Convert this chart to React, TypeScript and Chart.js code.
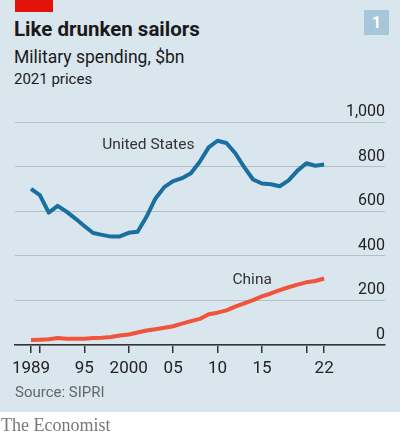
import React, { useEffect, useRef } from "react";
import { Chart, registerables } from "chart.js";

Chart.register(...registerables);

const years: number[] = [
  1989, 1990, 1991, 1992, 1993, 1994, 1995, 1996, 1997, 1998, 1999, 2000, 2001,
  2002, 2003, 2004, 2005, 2006, 2007, 2008, 2009, 2010, 2011, 2012, 2013, 2014,
  2015, 2016, 2017, 2018, 2019, 2020, 2021, 2022,
];

const usSpending: number[] = [
  700, 672, 594, 624, 598, 567, 534, 502, 494, 486, 487, 503, 508, 575, 656,
  708, 735, 748, 770, 822, 886, 916, 906, 860, 798, 742, 724, 721, 712, 738,
  782, 815, 804, 809,
];

const chinaSpending: number[] = [
  22, 24, 26, 31, 28, 28, 28, 31, 33, 36, 43, 47, 56, 65, 71, 77, 84, 96, 107,
  117, 138, 145, 155, 172, 187, 201, 218, 231, 246, 259, 271, 281, 287, 298,
];

const xTickValues: number[] = [1989, 1990, 1995, 2000, 2005, 2010, 2015, 2020, 2022];
const xTickLabels: string[] = ["1989", "", "95", "2000", "05", "10", "15", "", "22"];
const yTickValues: number[] = [0, 200, 400, 600, 800, 1000];
const yTickLabels: string[] = ["0", "200", "400", "600", "800", "1,000"];

const seriesNames: string[] = ["United States", "China"];
const seriesNoteYears: number[] = [2002.2, 2013.9];
const seriesNoteValues: number[] = [898, 293];

const BG = "#d9e6ee";
const US_COLOR = "#1a6fa0";
const CHINA_COLOR = "#f0543a";
const FONT = "Roboto, 'Noto Sans', sans-serif";

const notesPlugin = {
  id: "seriesNotes",
  afterDatasetsDraw(chart: any) {
    const { ctx, scales } = chart;
    ctx.save();
    ctx.font = `15.5px ${FONT}`;
    ctx.fillStyle = "#333333";
    ctx.textAlign = "center";
    ctx.textBaseline = "middle";
    seriesNames.forEach((name, i) => {
      const x = scales.x.getPixelForValue(seriesNoteYears[i]);
      const y = scales.y.getPixelForValue(seriesNoteValues[i]);
      ctx.fillText(name, x, y);
    });
    ctx.restore();
  },
};

export default function App() {
  const canvasRef = useRef<HTMLCanvasElement | null>(null);

  useEffect(() => {
    document.body.style.margin = "0";
    const canvas = canvasRef.current;
    if (!canvas) return;
    const chart = new Chart(canvas, {
      type: "line",
      data: {
        datasets: [
          {
            label: seriesNames[0],
            data: years.map((yr, i) => ({ x: yr, y: usSpending[i] })),
            borderColor: US_COLOR,
            borderWidth: 4,
            pointRadius: 0,
            tension: 0,
            borderJoinStyle: "round",
            borderCapStyle: "butt",
          },
          {
            label: seriesNames[1],
            data: years.map((yr, i) => ({ x: yr, y: chinaSpending[i] })),
            borderColor: CHINA_COLOR,
            borderWidth: 4,
            pointRadius: 0,
            tension: 0,
            borderJoinStyle: "round",
            borderCapStyle: "butt",
          },
        ],
      },
      options: {
        animation: false,
        responsive: false,
        maintainAspectRatio: false,
        layout: { padding: { left: 15, right: 15, top: 122, bottom: 50 } },
        plugins: {
          legend: { display: false },
          tooltip: { enabled: false },
          title: { display: false },
        },
        scales: {
          x: {
            type: "linear",
            min: 1987.2,
            max: 2028.85,
            afterBuildTicks: (scale: any) => {
              scale.ticks = xTickValues.map((v) => ({ value: v }));
            },
            afterFit: (scale: any) => {
              scale.paddingLeft = 0;
              scale.paddingRight = 0;
              scale.height = 40;
            },
            ticks: {
              autoSkip: false,
              maxRotation: 0,
              padding: 6,
              color: "#222222",
              font: { family: FONT, size: 17 },
              callback: (v: any) => {
                const idx = xTickValues.indexOf(Number(v));
                return idx >= 0 ? xTickLabels[idx] : "";
              },
            },
            grid: {
              drawOnChartArea: false,
              drawTicks: true,
              tickLength: 8,
              color: "#333333",
              lineWidth: 1.5,
            },
            border: { display: true, color: "#333333", width: 1.5 },
          },
          y: {
            position: "right",
            min: 0,
            max: 1000,
            afterBuildTicks: (scale: any) => {
              scale.ticks = yTickValues.map((v) => ({ value: v }));
            },
            afterFit: (scale: any) => {
              scale.paddingTop = 0;
              scale.paddingBottom = 0;
              scale.width = 0;
            },
            ticks: {
              mirror: true,
              padding: 0,
              labelOffset: -10,
              color: "#222222",
              font: { family: FONT, size: 16 },
              callback: (v: any) => {
                const idx = yTickValues.indexOf(Number(v));
                return idx >= 0 ? yTickLabels[idx] : "";
              },
            },
            grid: {
              drawTicks: false,
              color: "#b4c0c8",
              lineWidth: 1,
            },
            border: { display: false },
          },
        },
      },
      plugins: [notesPlugin],
    });
    return () => chart.destroy();
  }, []);

  return (
    <div
      style={{
        position: "absolute",
        left: 0,
        top: 0,
        width: 400,
        height: 435,
        background: "#ffffff",
        overflow: "hidden",
      }}
    >
      <div
        style={{
          position: "absolute",
          left: 0,
          top: 0,
          width: 400,
          height: 412,
          background: BG,
        }}
      />
      <div
        style={{
          position: "absolute",
          left: 15,
          top: 0,
          width: 38,
          height: 12,
          background: "#e3120b",
        }}
      />
      <div
        style={{
          position: "absolute",
          left: 364,
          top: 10,
          width: 25,
          height: 25,
          background: "#a6c6d9",
          color: "#ffffff",
          fontFamily: FONT,
          fontWeight: 700,
          fontSize: 16,
          lineHeight: "25px",
          textAlign: "center",
        }}
      >
        1
      </div>
      <div
        style={{
          position: "absolute",
          left: 14,
          top: 15,
          fontFamily: FONT,
          fontWeight: 700,
          fontSize: 20.5,
          lineHeight: "28px",
          color: "#1a1a1a",
          whiteSpace: "nowrap",
        }}
      >
        Like drunken sailors
      </div>
      <div
        style={{
          position: "absolute",
          left: 14,
          top: 45,
          fontFamily: FONT,
          fontSize: 17.5,
          lineHeight: "24px",
          color: "#1a1a1a",
          whiteSpace: "nowrap",
        }}
      >
        Military spending, $bn
      </div>
      <div
        style={{
          position: "absolute",
          left: 14,
          top: 69,
          fontFamily: FONT,
          fontSize: 15,
          lineHeight: "20px",
          color: "#1a1a1a",
          whiteSpace: "nowrap",
        }}
      >
        2021 prices
      </div>
      <canvas
        ref={canvasRef}
        width={400}
        height={435}
        style={{ position: "absolute", left: 0, top: 0, width: 400, height: 435 }}
      />
      <div
        style={{
          position: "absolute",
          left: 15,
          top: 383,
          fontFamily: FONT,
          fontSize: 15,
          lineHeight: "18px",
          color: "#666666",
          whiteSpace: "nowrap",
        }}
      >
        Source: SIPRI
      </div>
      <div
        style={{
          position: "absolute",
          left: 1,
          top: 414,
          fontFamily: "'Liberation Serif', 'DejaVu Serif', serif",
          fontSize: 18,
          lineHeight: "22px",
          color: "#777777",
          whiteSpace: "nowrap",
        }}
      >
        The Economist
      </div>
    </div>
  );
}
